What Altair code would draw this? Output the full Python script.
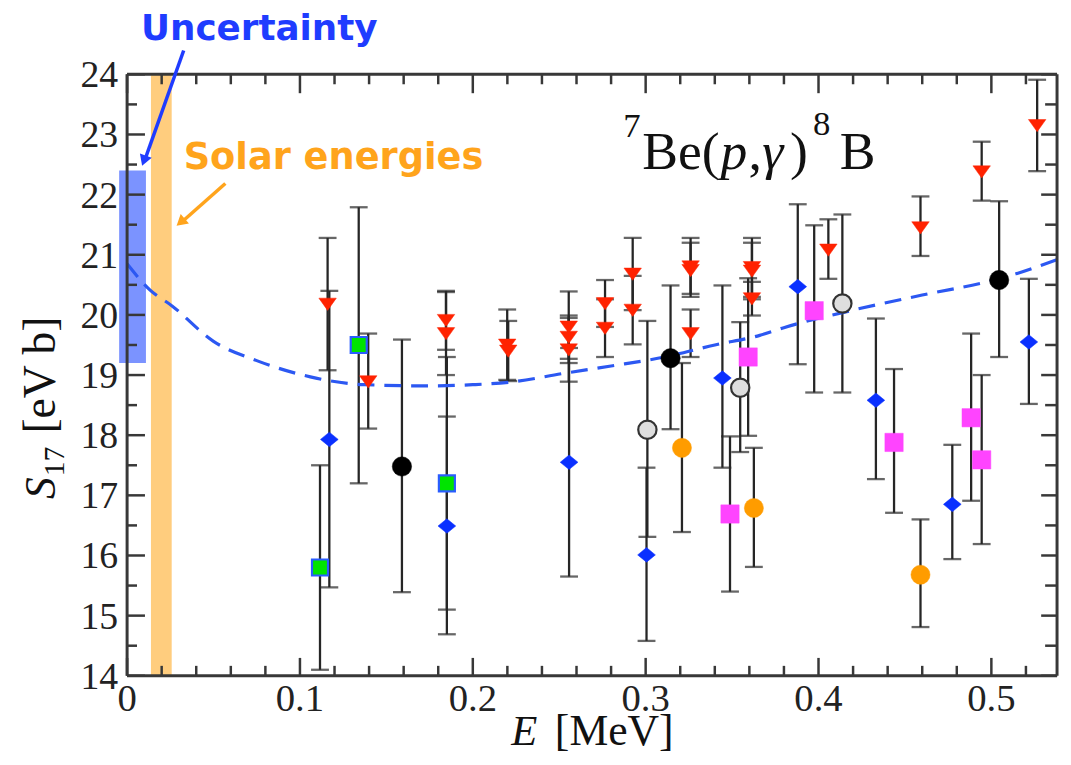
import altair as alt
import pandas as pd

# ------------------------------------------------------------------ data
# red down-triangles
red_x  = [0.116, 0.1395, 0.1845, 0.1845, 0.2199, 0.2205, 0.2555, 0.2555, 0.2555, 0.2765, 0.2765,
          0.2925, 0.2925, 0.326, 0.326, 0.326, 0.3615, 0.3615, 0.3615, 0.4057, 0.459, 0.4944, 0.5265]
red_y  = [20.18, 18.89, 19.91, 19.69, 19.50, 19.40, 19.80, 19.63, 19.42, 20.19, 19.78,
          20.68, 20.08, 20.80, 20.74, 19.69, 20.79, 20.73, 20.27, 21.08, 21.45, 22.38, 23.15]
red_lo = [19.08, 18.11, 19.42, 19.00, 18.92, 18.90, 19.20, 19.27, 18.89, 19.80, 19.30,
          20.08, 19.51, 20.30, 20.35, 19.30, 20.30, 20.26, 19.99, 20.60, 20.98, 21.90, 22.39]
red_hi = [21.28, 19.69, 20.40, 20.38, 20.09, 19.90, 20.39, 19.99, 19.95, 20.58, 20.26,
          21.28, 20.65, 21.28, 21.20, 20.09, 21.28, 21.20, 20.55, 21.59, 21.97, 22.88, 23.91]

# blue diamonds
blue_x  = [0.117, 0.185, 0.2557, 0.3005, 0.3444, 0.388, 0.4332, 0.4774, 0.5217]
blue_y  = [17.93, 16.49, 17.55, 16.01, 18.95, 20.47, 18.58, 16.85, 19.55]
blue_lo = [15.47, 14.69, 15.65, 14.58, 17.46, 19.18, 17.27, 15.94, 18.52]
blue_hi = [20.40, 18.31, 19.45, 17.46, 20.49, 21.84, 19.94, 17.84, 20.60]

# green squares
green_x  = [0.1116, 0.134, 0.185]
green_y  = [15.80, 19.50, 17.20]
green_lo = [14.10, 17.20, 15.10]
green_hi = [17.50, 21.79, 19.30]

# black circles
black_x  = [0.159, 0.3144, 0.5045]
black_y  = [17.48, 19.28, 20.58]
black_lo = [15.39, 18.10, 19.30]
black_hi = [19.59, 20.49, 21.89]

# grey open circles
grey_x  = [0.301, 0.3547, 0.4138]
grey_y  = [18.09, 18.79, 20.19]
grey_lo = [16.31, 17.72, 18.71]
grey_hi = [19.90, 19.88, 21.67]

# orange circles
orange_x  = [0.321, 0.3626, 0.459]
orange_y  = [17.79, 16.79, 15.68]
orange_lo = [16.39, 15.81, 14.81]
orange_hi = [19.20, 17.79, 16.60]

# magenta squares
mag_x  = [0.3488, 0.3593, 0.3975, 0.4437, 0.4883, 0.4944]
mag_y  = [16.69, 19.30, 20.07, 17.88, 18.29, 17.59]
mag_lo = [15.40, 17.99, 18.71, 16.71, 16.91, 16.19]
mag_hi = [17.98, 20.61, 21.49, 19.10, 19.69, 19.00]

# dashed theory curve
curve_x = [0.0, 0.013, 0.026, 0.05, 0.075, 0.106, 0.137, 0.175, 0.20, 0.221, 0.253, 0.28,
           0.311, 0.34, 0.366, 0.379, 0.42, 0.46, 0.507, 0.538]
curve_y = [20.85, 20.42, 20.15, 19.56, 19.24, 18.97, 18.84, 18.82, 18.84, 18.88, 19.03, 19.15,
           19.30, 19.50, 19.66, 19.78, 20.08, 20.33, 20.62, 20.92]

# bands
unc_x = [-0.0046, 0.0109]
unc_y = [19.2, 22.4]
solar_x = [0.0138, 0.0258]
solar_y = [14.0, 24.0]

# axes
x_domain = [0.0, 0.538]
y_domain = [14.0, 24.0]
y_major = [14, 15, 16, 17, 18, 19, 20, 21, 22, 23, 24]
y_major_labels = ["14", "15", "16", "17", "18", "19", "20", "21", "22", "23", "24"]
y_minor = [14.5, 15.5, 16.5, 17.5, 18.5, 19.5, 20.5, 21.5, 22.5, 23.5]
x_major = [0.0, 0.1, 0.2, 0.3, 0.4, 0.5]
x_major_labels = ["0", "0.1", "0.2", "0.3", "0.4", "0.5"]
x_minor = [0.02, 0.04, 0.06, 0.08, 0.12, 0.14, 0.16, 0.18, 0.22, 0.24, 0.26, 0.28,
           0.32, 0.34, 0.36, 0.38, 0.42, 0.44, 0.46, 0.48, 0.52]

# ------------------------------------------------------------------ layout
W, H = 937, 606
FRAME = "#383838"
xs = alt.Scale(domain=x_domain, nice=False, zero=False)
ys = alt.Scale(domain=y_domain, nice=False, zero=False)
one = pd.DataFrame({"a": [0]})

def X(f):
    return alt.X(f, type="quantitative", scale=xs, axis=None)

def Y(f):
    return alt.Y(f, type="quantitative", scale=ys, axis=None)

layers = []

# bands
band_df = pd.DataFrame({
    "x0": [unc_x[0], solar_x[0]], "x1": [unc_x[1], solar_x[1]],
    "y0": [unc_y[0], solar_y[0]], "y1": [unc_y[1], solar_y[1]],
    "c": ["#7b93ff", "#ffcd7e"],
})
layers.append(alt.Chart(band_df).mark_rect(opacity=1).encode(
    x=X("x0"), x2="x1", y=Y("y0"), y2="y1", color=alt.Color("c:N", scale=None)))

# points table
series = {
    "red": (red_x, red_y, red_lo, red_hi),
    "blue": (blue_x, blue_y, blue_lo, blue_hi),
    "green": (green_x, green_y, green_lo, green_hi),
    "black": (black_x, black_y, black_lo, black_hi),
    "grey": (grey_x, grey_y, grey_lo, grey_hi),
    "orange": (orange_x, orange_y, orange_lo, orange_hi),
    "magenta": (mag_x, mag_y, mag_lo, mag_hi),
}
rows = []
for name, (sx, sy, slo, shi) in series.items():
    for a, b, c, d in zip(sx, sy, slo, shi):
        rows.append({"x": a, "y": b, "lo": c, "hi": d, "s": name})
pts = pd.DataFrame(rows)

BAR = "#262626"
layers.append(alt.Chart(pts).mark_rule(color=BAR, strokeWidth=2.3).encode(
    x=X("x"), y=Y("lo"), y2="hi"))
layers.append(alt.Chart(pts).mark_tick(color=BAR, orient="horizontal", size=18, thickness=2.3).encode(
    x=X("x"), y=Y("lo")))
layers.append(alt.Chart(pts).mark_tick(color=BAR, orient="horizontal", size=18, thickness=2.3).encode(
    x=X("x"), y=Y("hi")))

# dashed curve
curve_df = pd.DataFrame({"x": curve_x, "y": curve_y})
layers.append(alt.Chart(curve_df).mark_line(color="#2c58f2", strokeWidth=3.2, strokeDash=[17, 10],
                                            interpolate="monotone").encode(x=X("x"), y=Y("y")))

TRI_DOWN = "M-1,-0.68L1,-0.68L0,0.72Z"
DIAMOND = "M-1,0L0,-0.82L1,0L0,0.82Z"
styles = {
    "red": dict(shape=TRI_DOWN, fill="#ff2200", stroke="#ff2200", size=310, strokeWidth=0.5),
    "blue": dict(shape=DIAMOND, fill="#0a30ff", stroke="#0a30ff", size=320, strokeWidth=0.5),
    "green": dict(shape="square", fill="#00e400", stroke="#2a5cff", size=260, strokeWidth=2.2),
    "black": dict(shape="circle", fill="#000000", stroke="#000000", size=380, strokeWidth=0.5),
    "grey": dict(shape="circle", fill="#dedede", stroke="#333333", size=340, strokeWidth=2.2),
    "orange": dict(shape="circle", fill="#ff9c00", stroke="#ff9c00", size=370, strokeWidth=0.5),
    "magenta": dict(shape="square", fill="#ff44ff", stroke="#ff44ff", size=340, strokeWidth=0.5),
}
for name, st in styles.items():
    layers.append(alt.Chart(pts[pts.s == name]).mark_point(filled=True, opacity=1, **st).encode(
        x=X("x"), y=Y("y")))

# ticks (inward) on all four sides
ymaj = pd.DataFrame({"v": y_major, "t": y_major_labels})
ymin = pd.DataFrame({"v": y_minor})
xmaj = pd.DataFrame({"v": x_major, "t": x_major_labels})
xmin = pd.DataFrame({"v": x_minor})
TK = dict(color=FRAME, strokeWidth=2.5)
layers += [
    alt.Chart(ymaj).mark_rule(**TK).encode(y=Y("v"), x=alt.value(0), x2=alt.value(18)),
    alt.Chart(ymin).mark_rule(**TK).encode(y=Y("v"), x=alt.value(0), x2=alt.value(10)),
    alt.Chart(ymaj).mark_rule(**TK).encode(y=Y("v"), x=alt.value(W - 16), x2=alt.value(W)),
    alt.Chart(ymin).mark_rule(**TK).encode(y=Y("v"), x=alt.value(W - 12), x2=alt.value(W)),
    alt.Chart(xmaj).mark_rule(**TK).encode(x=X("v"), y=alt.value(0), y2=alt.value(19)),
    alt.Chart(xmin).mark_rule(**TK).encode(x=X("v"), y=alt.value(0), y2=alt.value(10)),
    alt.Chart(xmaj).mark_rule(**TK).encode(x=X("v"), y=alt.value(H - 18), y2=alt.value(H)),
    alt.Chart(xmin).mark_rule(**TK).encode(x=X("v"), y=alt.value(H - 10), y2=alt.value(H)),
]

# frame
FR = dict(color=FRAME, strokeWidth=3)
layers += [
    alt.Chart(one).mark_rule(**FR).encode(x=alt.value(0), x2=alt.value(W), y=alt.value(0)),
    alt.Chart(one).mark_rule(**FR).encode(x=alt.value(0), x2=alt.value(W), y=alt.value(H)),
    alt.Chart(one).mark_rule(**FR).encode(x=alt.value(0), y=alt.value(0), y2=alt.value(H)),
    alt.Chart(one).mark_rule(**FR).encode(x=alt.value(W), y=alt.value(0), y2=alt.value(H)),
]

# tick labels
SERIF = "Liberation Serif"
layers.append(alt.Chart(ymaj).mark_text(align="right", baseline="alphabetic", dy=13, font=SERIF,
                                        fontSize=38, color="#222").encode(
    y=Y("v"), x=alt.value(-9), text="t:N"))
layers.append(alt.Chart(xmaj).mark_text(align="center", baseline="alphabetic", font=SERIF,
                                        fontSize=39, color="#222").encode(
    x=X("v"), y=alt.value(641), text="t:N"))


def txt(s, x, y, size, color="#111", font=SERIF, style="normal", weight="normal", angle=None,
        align="left"):
    kw = dict(text=s, font=font, fontSize=size, fontStyle=style, fontWeight=weight, color=color,
              align=align, baseline="alphabetic")
    if angle is not None:
        kw["angle"] = angle
    return alt.Chart(one).mark_text(**kw).encode(x=alt.value(x), y=alt.value(y))


# axis titles
layers += [
    txt("E", 387, 676, 43, style="italic"),
    txt("[MeV]", 431, 676, 44),
    txt("S", -73, 428, 44, style="italic", angle=270),
    txt("17", -64, 405, 30, angle=270),
    txt("[eV b]", -73, 362, 46, angle=270),
]

# reaction label
layers += [
    txt("7", 500, 63, 35),
    txt("Be(", 519, 95, 54),
    txt("p", 598, 95, 54, style="italic"),
    txt(",", 626, 95, 54),
    txt("γ", 640, 95, 54, style="italic"),
    txt(")", 668, 95, 54),
    txt("8", 691, 61, 35),
    txt("B", 718, 95, 54),
]

# annotations
BLUE_T = "#1f3cff"
ORANGE_T = "#ffa41c"
layers += [
    txt("Uncertainty", 14, -35, 36, color=BLUE_T, font="DejaVu Sans", weight="bold"),
    txt("Solar energies", 57, 95, 37, color=ORANGE_T, font="DejaVu Sans", weight="bold"),
    alt.Chart(one).mark_rule(color=BLUE_T, strokeWidth=3.5).encode(
        x=alt.value(57), y=alt.value(-24), x2=alt.value(18), y2=alt.value(86)),
    alt.Chart(one).mark_point(shape="triangle-up", filled=True, opacity=1, color=BLUE_T,
                              size=160, angle=200).encode(x=alt.value(17), y=alt.value(87)),
    alt.Chart(one).mark_rule(color=ORANGE_T, strokeWidth=3.5).encode(
        x=alt.value(99), y=alt.value(110), x2=alt.value(56), y2=alt.value(148)),
    alt.Chart(one).mark_point(shape="triangle-up", filled=True, opacity=1, color=ORANGE_T,
                              size=160, angle=229).encode(x=alt.value(54), y=alt.value(149)),
]

chart = alt.layer(*layers).properties(
    width=W, height=H,
    padding={"left": 120, "top": 64, "right": 6, "bottom": 79},
    autosize=alt.AutoSizeParams(type="none"),
).configure_view(stroke=None).configure(background="white")

chart.save("out.html", embed_options={"renderer": "svg", "actions": False})
